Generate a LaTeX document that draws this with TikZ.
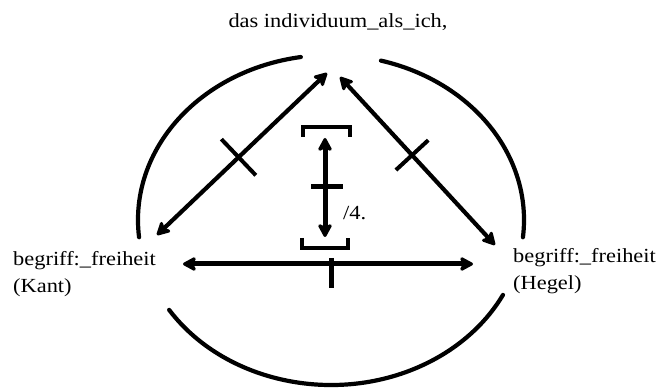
\documentclass[tikz,border=0pt]{standalone}
\usepackage{fontspec}
\setmainfont[FakeStretch=1.12]{Liberation Serif}
\usetikzlibrary{arrows.meta,calc}
\begin{document}
\begin{tikzpicture}[x=1pt,y=-1pt,line join=round,line cap=round,
		>={Stealth[length=16pt,width=17pt,inset=4pt,round]},
		rim/.style={line width=4.2pt},
		link/.style={<->,line width=4.2pt},
		bar/.style={line width=4pt,line cap=butt},
		brk/.style={line width=3.2pt,line cap=butt,line join=miter}]
	\tikzset{every node/.style={inner sep=0pt,font=\fontsize{20}{27}\selectfont}}
	\useasboundingbox (0,0) rectangle (662,390);
	% labels
	\node[anchor=base] (ich) at (338,28) {das individuum\_als\_ich,};
	\node[anchor=north west,align=left] (kant) at (13,251) {begriff:\_freiheit\\(Kant)};
	\node[anchor=north west,align=left] (hegel) at (513,248) {begriff:\_freiheit\\(Hegel)};
	% arrow ends
	\coordinate (ichL) at (327,73);
	\coordinate (ichR) at (340,77);
	\coordinate (kantT) at (157,235);
	\coordinate (kantR) at (183,264);
	\coordinate (hegelT) at (495,245);
	\coordinate (hegelL) at (473,264);
	\coordinate (up) at (325,138);
	\coordinate (down) at (325,237);
	% outer arcs
	\coordinate (ctr) at (331,220);
	\draw[rim] ($(ctr)+(261:193 and 165)$) arc[start angle=261,end angle=174,x radius=193,y radius=165];
	\draw[rim] ($(ctr)+(-75:193 and 165)$) arc[start angle=-75,end angle=6,x radius=193,y radius=165];
	\draw[rim] ($(ctr)+(147:193 and 165)$) arc[start angle=147,end angle=27,x radius=193,y radius=165];
	% arrows
	\draw[link] (ichL) -- (kantT);
	\draw[link] (ichR) -- (hegelT);
	\draw[link,line width=5pt] (kantR) -- (hegelL);
	\draw[link,line width=5pt] (up) -- (down);
	% crossings
	\coordinate (xl) at ($(ichL)!0.52!(kantT)$);
	\draw[bar] ($(xl)!25pt!90:(kantT)$) -- ($(xl)!25pt!-90:(kantT)$);
	\coordinate (xr) at ($(ichR)!0.465!(hegelT)$);
	\draw[bar] ($(xr)!22pt!90:(hegelT)$) -- ($(xr)!22pt!-90:(hegelT)$);
	\draw[bar,line width=5pt] (331,258) -- (331,288);
	\draw[bar,line width=5pt] (311,187) -- (343,187);
	% brackets
	\draw[brk] (303,137) -- (303,127) -- (350,127) -- (350,137);
	\draw[brk] (302,238) -- (302,248) -- (348,248) -- (348,238);
	\node[anchor=base west] (four) at (343,220) {/4.};
\end{tikzpicture}
\end{document}
